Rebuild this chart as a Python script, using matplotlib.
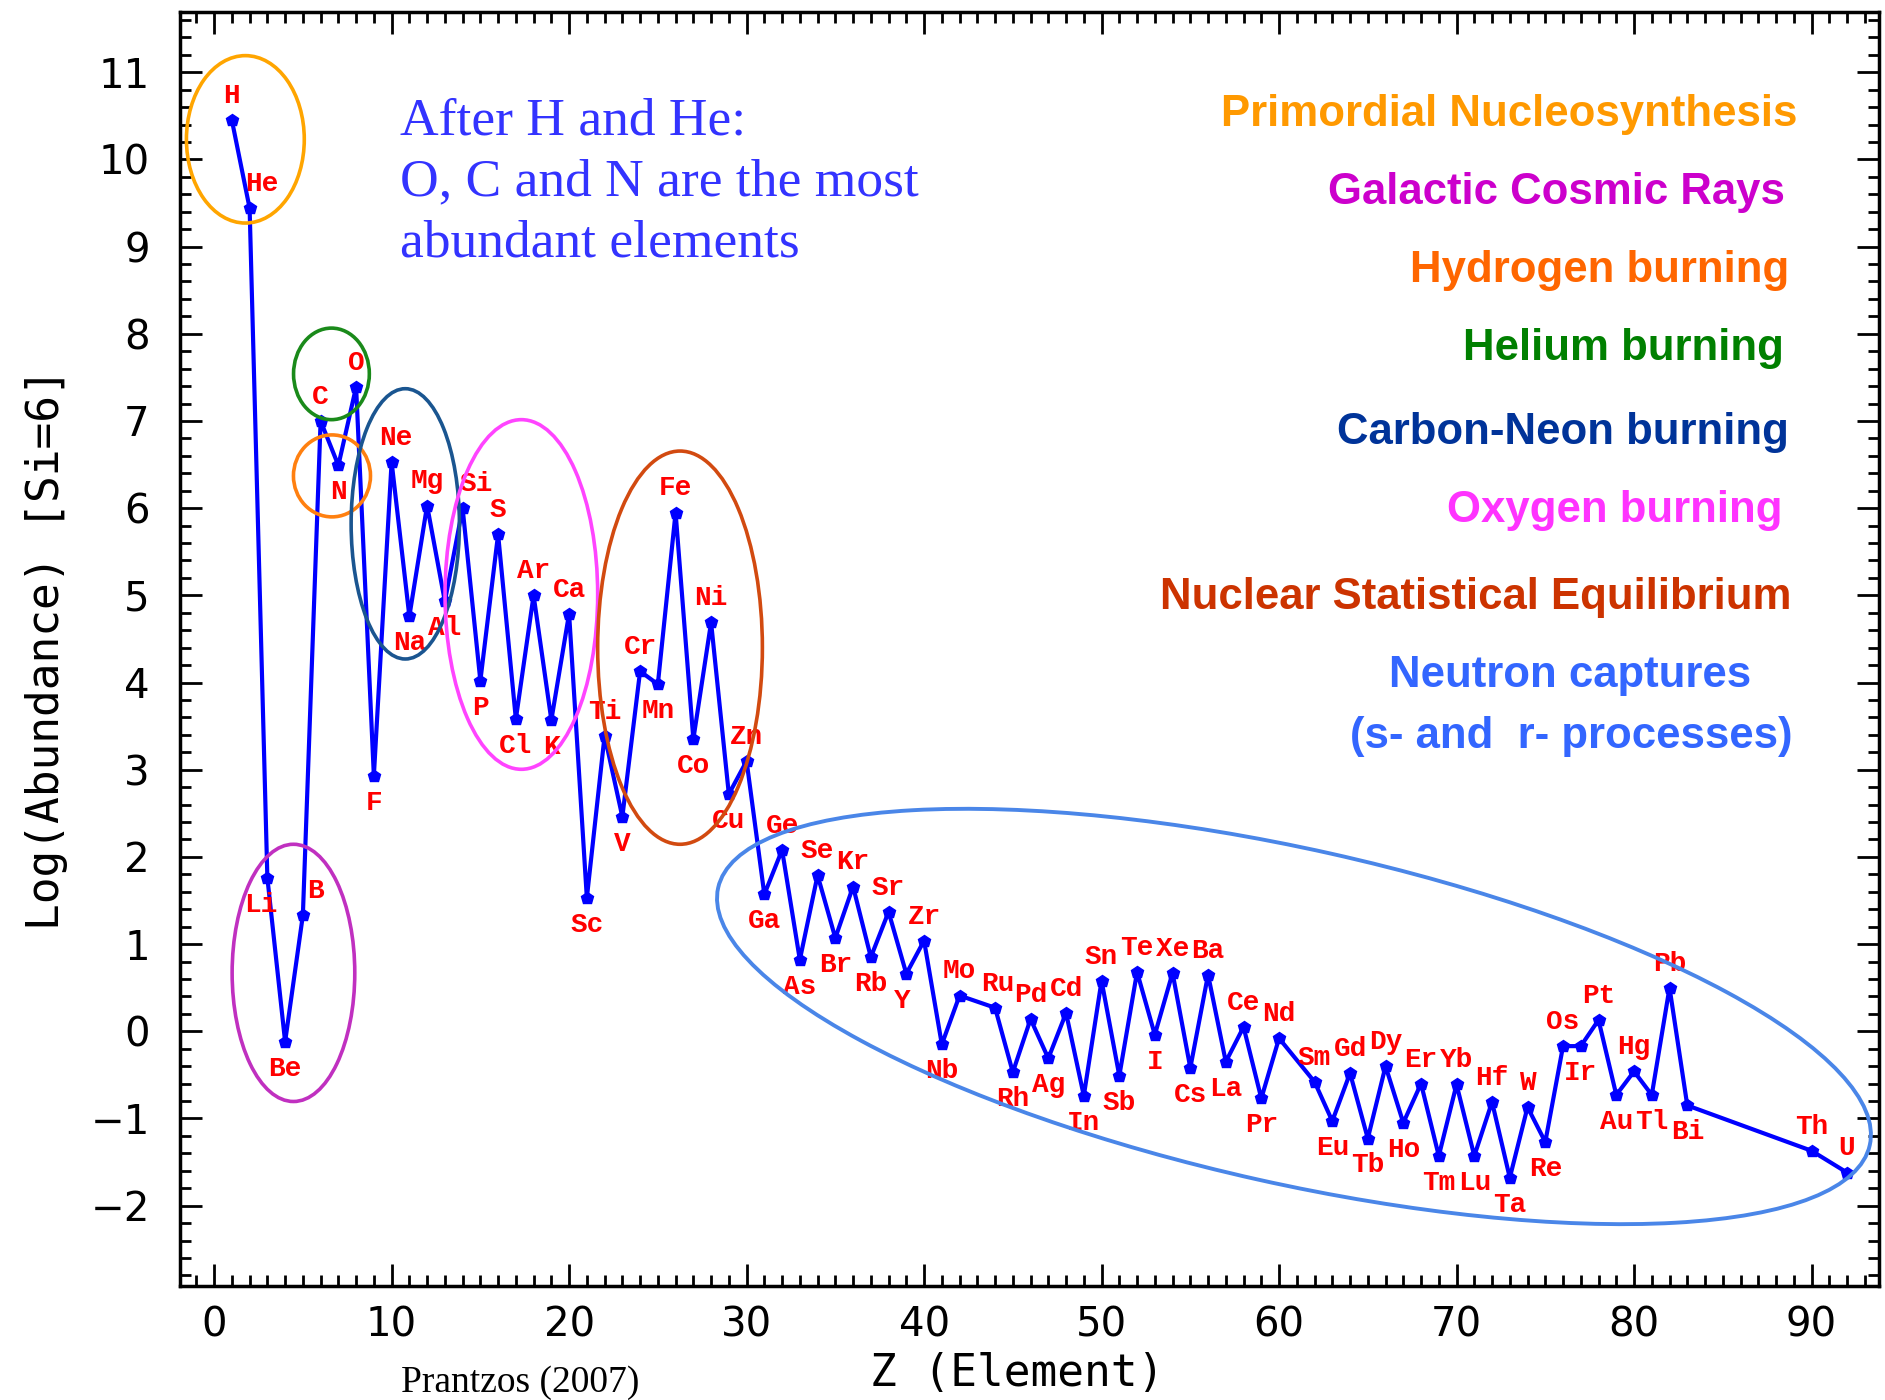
import matplotlib.pyplot as plt
import matplotlib.transforms as mtransforms
from matplotlib.patches import Ellipse
from matplotlib.ticker import MultipleLocator

# solar system abundances, log scale normalised to Si = 6
symbols = ['H', 'He', 'Li', 'Be', 'B', 'C', 'N', 'O', 'F', 'Ne', 'Na', 'Mg', 'Al', 'Si',
           'P', 'S', 'Cl', 'Ar', 'K', 'Ca', 'Sc', 'Ti', 'V', 'Cr', 'Mn', 'Fe', 'Co', 'Ni',
           'Cu', 'Zn', 'Ga', 'Ge', 'As', 'Se', 'Br', 'Kr', 'Rb', 'Sr', 'Y', 'Zr', 'Nb', 'Mo',
           'Ru', 'Rh', 'Pd', 'Ag', 'Cd', 'In', 'Sn', 'Sb', 'Te', 'I', 'Xe', 'Cs', 'Ba', 'La',
           'Ce', 'Pr', 'Nd', 'Sm', 'Eu', 'Gd', 'Tb', 'Dy', 'Ho', 'Er', 'Tm', 'Yb', 'Lu', 'Hf',
           'Ta', 'W', 'Re', 'Os', 'Ir', 'Pt', 'Au', 'Hg', 'Tl', 'Pb', 'Bi', 'Th', 'U']
z_values = [1, 2, 3, 4, 5, 6, 7, 8, 9, 10, 11, 12, 13, 14,
            15, 16, 17, 18, 19, 20, 21, 22, 23, 24, 25, 26, 27, 28,
            29, 30, 31, 32, 33, 34, 35, 36, 37, 38, 39, 40, 41, 42,
            44, 45, 46, 47, 48, 49, 50, 51, 52, 53, 54, 55, 56, 57,
            58, 59, 60, 62, 63, 64, 65, 66, 67, 68, 69, 70, 71, 72,
            73, 74, 75, 76, 77, 78, 79, 80, 81, 82, 83, 90, 92]
log_abund = [10.45, 9.44, 1.76, -0.12, 1.33, 7.00, 6.49, 7.39, 2.93, 6.53, 4.76, 6.03, 4.93, 6.00,
             4.02, 5.70, 3.58, 5.00, 3.57, 4.79, 1.53, 3.39, 2.46, 4.13, 3.98, 5.95, 3.35, 4.69,
             2.72, 3.10, 1.57, 2.08, 0.82, 1.79, 1.07, 1.66, 0.85, 1.37, 0.66, 1.04, -0.15, 0.41,
             0.27, -0.47, 0.14, -0.31, 0.21, -0.74, 0.58, -0.51, 0.68, -0.04, 0.67, -0.42, 0.65, -0.35,
             0.05, -0.77, -0.08, -0.58, -1.03, -0.48, -1.23, -0.40, -1.05, -0.60, -1.43, -0.61, -1.43, -0.81,
             -1.68, -0.87, -1.27, -0.17, -0.17, 0.13, -0.73, -0.46, -0.73, 0.50, -0.85, -1.37, -1.62]
# a = label above the point, b = below
label_side = ['a', 'a', 'b', 'b', 'a', 'a', 'b', 'a', 'b', 'a', 'b', 'a', 'b', 'a',
              'b', 'a', 'b', 'a', 'b', 'a', 'b', 'a', 'b', 'a', 'b', 'a', 'b', 'a',
              'b', 'a', 'b', 'a', 'b', 'a', 'b', 'a', 'b', 'a', 'b', 'a', 'b', 'a',
              'a', 'b', 'a', 'b', 'a', 'b', 'a', 'b', 'a', 'b', 'a', 'b', 'a', 'b',
              'a', 'b', 'a', 'a', 'b', 'a', 'b', 'a', 'b', 'a', 'b', 'a', 'b', 'a',
              'b', 'a', 'b', 'a', 'b', 'a', 'b', 'a', 'b', 'a', 'b', 'a', 'a']
label_dx = {'He': 9, 'Li': -5, 'B': 9, 'Ne': 3, 'Si': 10, 'Y': -3, 'Ru': 2}

# production-site groups
groups = ['Primordial Nucleosynthesis', 'Galactic Cosmic Rays', 'Hydrogen burning',
          'Helium burning', 'Carbon-Neon burning', 'Oxygen burning',
          'Nuclear Statistical Equilibrium']
group_colors = ['#ff9900', '#cc00cc', '#ff6600', '#008000', '#003399', '#ff33ff', '#cc3300']
ell_colors = ['#ffa500', '#c030c0', '#ff8010', '#1a8a1a', '#1a5590', '#ff44ff', '#d24a10']
ell_x = [1.76, 4.47, 6.64, 6.61, 10.77, 17.31, 26.25]
ell_y = [10.23, 0.67, 6.37, 7.54, 5.82, 5.01, 4.40]
ell_w = [6.64, 6.91, 4.34, 4.27, 6.10, 8.60, 9.28]
ell_h = [1.92, 2.95, 0.94, 1.05, 3.10, 4.01, 4.51]
group_text_y = [0.9185, 0.8627, 0.8069, 0.7511, 0.6910, 0.6352, 0.5734]
group_text_x = [0.9534, 0.9471, 0.9490, 0.9464, 0.9490, 0.9458, 0.9503]
neutron_color = '#3366ff'
legend_font = ['Liberation Sans Narrow', 'Liberation Sans']

fig = plt.figure(figsize=(18.85, 14), dpi=100)
ax = fig.add_axes([0.0957, 0.0815, 0.9011, 0.9099])

ax.plot(z_values, log_abund, color='#0000ff', lw=3, marker='p', ms=9, zorder=3)

for s, z, v, side in zip(symbols, z_values, log_abund, label_side):
    dy = 8 if side == 'a' else -10
    ax.annotate(s, (z, v), xytext=(label_dx.get(s, 0), dy), textcoords='offset points',
                ha='center', va='bottom' if side == 'a' else 'top',
                color='#ff0000', fontsize=20, fontweight='bold', family='Liberation Mono',
                zorder=4)

for c, x, y, w, h in zip(ell_colors, ell_x, ell_y, ell_w, ell_h):
    ax.add_patch(Ellipse((x, y), w, h, fill=False, ec=c, lw=2.6, zorder=5))

# big tilted ellipse for the neutron-capture elements, sized in inches
tr = fig.dpi_scale_trans + mtransforms.ScaledTranslation(60.84, 0.17, ax.transData)
ax.add_patch(Ellipse((0, 0), 11.8, 3.34, angle=-12.6, fill=False, ec='#4a86e8',
                     lw=2.8, transform=tr, zorder=5))

ax.set_xlim(-1.9, 93.8)
ax.set_ylim(-2.92, 11.69)
ax.xaxis.set_major_locator(MultipleLocator(10))
ax.xaxis.set_minor_locator(MultipleLocator(1))
ax.yaxis.set_major_locator(MultipleLocator(1))
ax.yaxis.set_minor_locator(MultipleLocator(0.2))
ax.tick_params(which='both', direction='in', top=True, right=True, width=2, color='black')
ax.tick_params(which='major', length=16, labelsize=29)
ax.tick_params(which='minor', length=8)
ax.tick_params(axis='x', which='major', pad=14)
ax.tick_params(axis='y', which='major', pad=22)
for sp in ax.spines.values():
    sp.set_linewidth(2.5)

ax.set_xlabel('Z (Element)', family='DejaVu Sans Mono', fontsize=32)
ax.xaxis.set_label_coords(0.4926, -0.069, transform=ax.transAxes)
ax.xaxis.label.set_va('center')
ax.set_ylabel('Log(Abundance) [Si=6]', family='DejaVu Sans Mono', fontsize=32, labelpad=16)

for t, c, x, y in zip(groups, group_colors, group_text_x, group_text_y):
    fig.text(x, y, t, color=c, ha='right', va='center', fontsize=31.5, fontweight='bold',
             family=legend_font)
fig.text(0.8329, 0.5176, 'Neutron captures', color=neutron_color, ha='center', va='center',
         fontsize=31.5, fontweight='bold', family=legend_font)
fig.text(0.8335, 0.4738, '(s- and  r- processes)', color=neutron_color, ha='center',
         va='center', fontsize=31.5, fontweight='bold', family=legend_font)

fig.text(0.2124, 0.9305, 'After H and He:\nO, C and N are the most\nabundant elements',
         color='#3333ff', ha='left', va='top', fontsize=38.5, family='Liberation Serif',
         linespacing=1.36)
fig.text(0.2761, 0.0125, 'Prantzos (2007)', color='black', ha='center', va='center',
         fontsize=27, family='Liberation Serif')

fig.savefig('out.png', dpi=100)
